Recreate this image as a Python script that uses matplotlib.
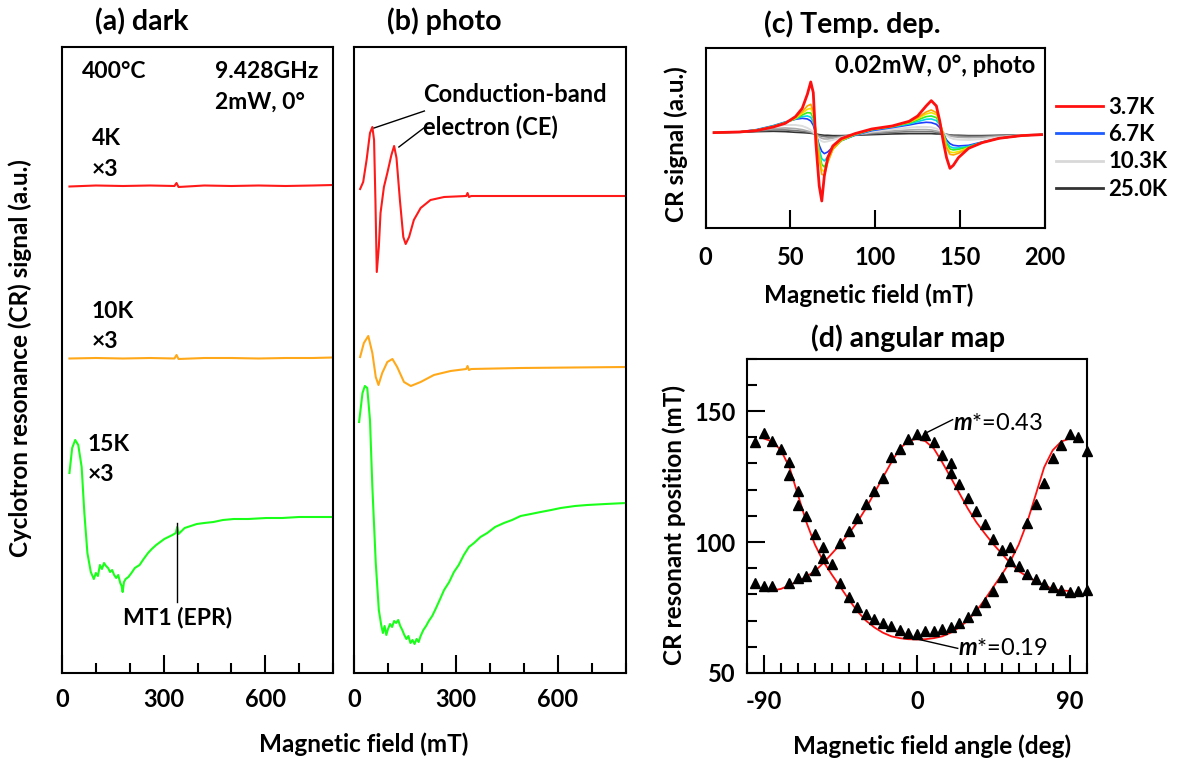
import matplotlib
matplotlib.use("Agg")
import matplotlib.pyplot as plt
from matplotlib.ticker import MultipleLocator

plt.rcParams['font.family'] = ['Lato', 'DejaVu Sans']
plt.rcParams['font.weight'] = 'bold'
plt.rcParams['axes.unicode_minus'] = False
plt.rcParams['mathtext.fontset'] = 'custom'
plt.rcParams['mathtext.it'] = 'Lato:italic'
plt.rcParams['mathtext.rm'] = 'Lato'

# ---- (a) dark spectra (field in mT, signal in a.u. incl. offsets) ----
a_flat_field = [22, 100, 180, 260, 332, 338, 344, 420, 500, 580, 660, 740, 800]
a_red_sig = [48.85, 48.95, 48.9, 48.95, 48.9, 49.2, 48.8, 48.95, 48.9, 48.95, 48.9, 48.95, 49.0]
a_orange_sig = [31.65, 31.7, 31.65, 31.7, 31.65, 32.0, 31.6, 31.7, 31.7, 31.65, 31.7, 31.7, 31.75]
a_green_field = [22, 30, 39, 48, 58, 66, 75, 85, 94, 100, 106, 112, 118, 124, 130, 136, 142, 148,
                 154, 160, 166, 172, 176, 179, 183, 188, 196, 205, 215, 229, 241, 254, 265, 278,
                 290, 302, 314, 326, 336, 340, 344, 362, 380, 398, 420, 447, 475, 507, 550, 603,
                 650, 700, 750, 800]
a_green_sig = [20.2, 22.7, 23.5, 23.0, 20.8, 16.2, 12.2, 10.3, 9.6, 10.2, 9.9, 11.0, 10.6, 11.2,
               10.9, 10.7, 10.3, 10.5, 10.0, 9.7, 10.0, 9.2, 8.9, 8.3, 9.3, 9.6, 9.8, 10.2, 10.7,
               11.0, 11.6, 12.2, 12.6, 13.0, 13.3, 13.6, 13.8, 14.0, 14.2, 14.8, 14.1, 14.7, 14.9,
               15.1, 15.2, 15.3, 15.5, 15.6, 15.6, 15.7, 15.7, 15.8, 15.8, 15.8]

# ---- (b) photo spectra ----
b_red_field = [18, 27, 37, 47, 54, 59, 63, 67, 73, 78, 88, 98, 110, 118, 125, 135, 145, 152, 162,
               176, 196, 225, 265, 330, 334, 338, 345, 490, 800]
b_red_sig = [48.6, 49.3, 51.5, 54.2, 54.8, 53.5, 47.5, 40.3, 42.8, 46.2, 48.8, 50.2, 52.0, 52.9,
             51.7, 47.5, 43.8, 43.1, 43.8, 45.5, 46.7, 47.5, 47.8, 47.9, 48.2, 47.8, 47.9, 47.9, 47.9]
b_orange_field = [18, 29, 42, 54, 64, 72, 83, 98, 113, 127, 147, 167, 196, 235, 284, 330, 334, 338,
                  345, 490, 800]
b_orange_sig = [31.8, 33.2, 33.9, 32.2, 29.8, 29.0, 30.2, 31.3, 31.6, 30.8, 29.3, 28.9, 29.3, 30.0,
                30.4, 30.6, 30.9, 30.5, 30.6, 30.7, 30.8]
b_green_field = [15, 25, 32, 39, 47, 54, 64, 73, 80, 85, 90, 95, 100, 106, 112, 118, 124, 130, 136,
                 142, 148, 154, 160, 166, 172, 178, 184, 190, 196, 204, 212, 220, 230, 240, 252,
                 265, 280, 294, 308, 323, 338, 353, 372, 392, 415, 441, 465, 490, 520, 549, 580,
                 608, 650, 686, 740, 800]
b_green_sig = [25.3, 28.2, 28.9, 28.7, 25.5, 18.8, 11.2, 6.5, 5.0, 4.2, 4.9, 4.0, 4.6, 5.1, 4.8,
               5.4, 5.2, 5.5, 4.9, 4.5, 4.0, 3.6, 3.9, 3.2, 3.5, 3.1, 3.6, 3.3, 3.9, 4.5, 4.9, 5.4,
               5.9, 6.6, 7.5, 8.5, 9.3, 10.3, 11.0, 12.0, 12.8, 13.2, 13.8, 14.2, 14.8, 15.2, 15.5,
               15.9, 16.1, 16.3, 16.5, 16.7, 16.9, 17.0, 17.1, 17.2]

# ---- (c) temperature dependence ----
c_field = [5, 20, 30, 40, 47, 53, 57, 60, 62, 63.5, 65, 67, 68.5, 70, 72, 75, 80, 88, 98, 110,
           120, 125, 130, 133, 136, 138, 140, 142, 144, 146, 149, 155, 163, 173, 186, 198]
c_3p7K = [0, 0.2, 0.6, 1.7, 2.8, 4.8, 7.3, 11.5, 15.2, 12.0, -3.0, -16.0, -20.5, -13.0, -7.5, -4.0,
          -1.8, -0.3, 1.1, 2.0, 3.4, 5.0, 8.0, 9.6, 8.0, 3.5, -2.5, -7.5, -10.7, -9.8, -7.5, -4.7,
          -3.0, -1.7, -0.9, -0.6]
c_orange = [0, 0.2, 0.7, 1.8, 2.9, 4.5, 6.3, 8.0, 8.5, 6.5, 0.5, -8.0, -12.5, -12.8, -9.0, -5.0,
            -2.2, -0.5, 1.0, 1.9, 3.2, 4.5, 6.2, 6.8, 6.0, 3.5, -0.5, -4.5, -6.5, -6.7, -6.2, -4.6,
            -3.0, -1.7, -0.9, -0.6]
c_yellow = [0, 0.2, 0.7, 1.8, 2.9, 4.3, 5.8, 7.0, 7.3, 5.5, 0.5, -7.0, -11.0, -11.8, -8.8, -5.0,
            -2.3, -0.5, 1.0, 1.9, 3.1, 4.2, 5.6, 6.0, 5.4, 3.2, -0.3, -4.0, -5.8, -6.0, -5.7, -4.5,
            -3.0, -1.7, -0.9, -0.6]
c_green = [0, 0.2, 0.7, 1.9, 3.0, 4.2, 5.3, 6.0, 5.9, 4.3, 0.3, -6.0, -9.5, -10.3, -8.3, -5.0,
           -2.4, -0.6, 0.9, 1.8, 2.9, 3.8, 4.8, 5.0, 4.5, 2.8, -0.2, -3.3, -4.9, -5.2, -5.0, -4.3,
           -2.9, -1.7, -0.9, -0.6]
c_cyan = [0, 0.2, 0.8, 2.0, 3.1, 4.1, 4.8, 5.0, 4.6, 3.2, 0.0, -5.0, -7.8, -8.5, -7.3, -4.8,
          -2.4, -0.7, 0.8, 1.7, 2.6, 3.3, 4.0, 4.1, 3.6, 2.3, -0.2, -2.8, -4.2, -4.6, -4.6, -4.1,
          -2.9, -1.7, -0.9, -0.6]
c_6p7K = [0, 0.2, 0.9, 2.1, 3.2, 4.0, 4.3, 4.1, 3.5, 2.2, -0.3, -3.8, -5.6, -6.3, -5.8, -4.3,
          -2.4, -0.8, 0.6, 1.5, 2.3, 2.8, 3.1, 3.0, 2.5, 1.5, -0.3, -2.2, -3.3, -3.8, -4.0, -3.8,
          -2.8, -1.7, -0.9, -0.6]
c_10p3K = [0, 0.2, 0.8, 1.8, 2.3, 2.3, 2.0, 1.4, 0.8, 0.2, -0.8, -2.0, -2.6, -2.8, -2.6, -2.2,
           -1.5, -0.6, 0.3, 1.0, 1.5, 1.7, 1.7, 1.6, 1.2, 0.8, 0.0, -0.9, -1.5, -1.9, -2.1, -2.2,
           -1.9, -1.4, -0.8, -0.6]
c_grayA = [0, 0.2, 0.6, 1.2, 1.4, 1.2, 0.9, 0.5, 0.2, -0.1, -0.6, -1.3, -1.7, -1.9, -1.9, -1.7,
           -1.3, -0.7, 0.0, 0.5, 0.8, 0.9, 0.9, 0.8, 0.5, 0.3, -0.1, -0.6, -1.0, -1.2, -1.4, -1.5,
           -1.4, -1.1, -0.7, -0.6]
c_grayB = [0, 0.2, 0.5, 0.8, 0.8, 0.6, 0.4, 0.2, 0.0, -0.2, -0.5, -0.9, -1.1, -1.2, -1.3, -1.3,
           -1.1, -0.7, -0.3, 0.1, 0.3, 0.3, 0.3, 0.3, 0.1, 0.0, -0.2, -0.5, -0.7, -0.9, -1.0, -1.1,
           -1.1, -0.9, -0.7, -0.6]
c_25K = [0, 0.1, 0.3, 0.4, 0.3, 0.1, 0.0, -0.1, -0.2, -0.3, -0.4, -0.6, -0.7, -0.8, -0.8, -0.9,
         -0.9, -0.8, -0.6, -0.4, -0.3, -0.3, -0.3, -0.3, -0.4, -0.4, -0.5, -0.6, -0.7, -0.8, -0.8,
         -0.9, -0.9, -0.8, -0.7, -0.6]

# ---- (d) angular map ----
d_angle_a = [-95, -90, -85, -75, -70, -65, -60, -55, -45, -40, -35, -30, -25, -20, -15, -10, -5, 0,
             5, 10, 15, 20, 20, 25, 30, 35, 40, 45, 50, 55, 60, 65, 70, 75, 80, 85, 90, 95, 100]
d_res_a = [84.2, 83.3, 83.3, 84.2, 86.4, 87.2, 89.4, 93.8, 99.6, 104.1, 109.2, 114.6, 119.5, 124.4,
           132.3, 135.5, 139.4, 141.3, 141.0, 138.1, 133.3, 130.0, 126.5, 122.3, 116.9, 111.8,
           106.7, 101.3, 97.1, 98.1, 90.7, 87.8, 85.9, 84.0, 82.7, 81.7, 80.8, 81.3, 81.7]
d_angle_b = [-95, -90, -85, -80, -75, -75, -70, -70, -65, -60, -55, -50, -45, -40, -35, -30, -25,
             -20, -15, -10, -5, 0, 5, 10, 15, 20, 25, 30, 35, 40, 45, 50, 55, 65, 70, 75, 80, 85,
             90, 95, 100]
d_res_b = [138.1, 141.7, 138.7, 135.5, 130.4, 125.5, 119.5, 114.1, 109.9, 103.1, 98.1, 91.5, 84.2,
           79.1, 75.3, 72.4, 70.8, 69.2, 67.8, 66.3, 65.4, 65.0, 65.9, 65.9, 66.7, 67.6, 69.2,
           71.4, 74.0, 77.2, 81.3, 86.8, 92.6, 107.3, 114.6, 122.7, 132.1, 137.2, 141.3, 140.0,
           134.9]
d_fit_angle = list(range(-90, 91, 5))
d_fit_043 = [81.3, 81.5, 82.1, 83.5, 85.0, 86.8, 88.9, 92.0, 95.6, 99.2, 103.3, 107.6, 112.8, 118.7,
             124.6, 130.4, 135.7, 138.5, 139.4, 138.5, 135.7, 130.4, 124.6, 118.7, 112.8, 107.6,
             103.3, 99.2, 95.6, 92.0, 88.9, 86.8, 85.0, 83.5, 82.1, 81.5, 81.3]
d_fit_019 = [139.5, 138.3, 135.0, 128.5, 118.0, 107.5, 99.0, 92.5, 87.5, 82.8, 78.0, 73.6, 70.0,
             67.4, 65.4, 64.0, 63.3, 62.9, 62.8, 62.9, 63.3, 64.0, 65.4, 67.4, 70.0, 73.6, 78.0,
             82.8, 87.5, 92.5, 99.0, 107.5, 118.0, 128.5, 135.0, 138.3, 139.5]

W, H = 1177, 759
fig = plt.figure(figsize=(W / 100, H / 100), dpi=100)


def px_axes(left, top, right, bottom):
    return fig.add_axes([left / W, 1 - bottom / H, (right - left) / W, (bottom - top) / H])


def style_frame(ax):
    for s in ax.spines.values():
        s.set_linewidth(1.5)
    ax.tick_params(which='both', direction='in', width=1.5, labelsize=17,
                   top=False, right=False)
    ax.tick_params(which='major', length=13)
    ax.tick_params(which='minor', length=7)


ax_a = px_axes(62, 47, 333, 673)
ax_b = px_axes(354, 47, 626, 673)
ax_c = px_axes(705.5, 47.6, 1045, 228)
ax_d = px_axes(747, 358.6, 1086.6, 673)

ANN = 16.5

# (a)
ax_a.plot(a_flat_field, a_red_sig, color='#ff1a1a', lw=1.5)
ax_a.plot(a_flat_field, a_orange_sig, color='#ffa91a', lw=1.5)
ax_a.plot(a_green_field, a_green_sig, color='#1aff1a', lw=1.5)
ax_a.plot([340, 340], [7.3, 15.2], color='black', lw=1)
ax_a.text(340, 5.7, 'MT1 (EPR)', ha='center', va='center', fontsize=ANN)
for x, y, s in [(59, 60.3, '400°C'), (451, 60.3, '9.428GHz'), (451, 57.3, '2mW, 0°'),
                (88, 53.6, '4K'), (88, 50.5, '×3'), (88, 36.3, '10K'), (88, 33.3, '×3'),
                (76, 23.0, '15K'), (76, 20.0, '×3')]:
    ax_a.text(x, y, s, ha='left', va='center', fontsize=ANN)

# (b)
ax_b.plot(b_red_field, b_red_sig, color='#ff1a1a', lw=1.5)
ax_b.plot(b_orange_field, b_orange_sig, color='#ffa91a', lw=1.5)
ax_b.plot(b_green_field, b_green_sig, color='#1aff1a', lw=1.5)
ax_b.plot([59, 207], [54.7, 56.4], color='black', lw=1)
ax_b.plot([132, 213], [52.8, 54.9], color='black', lw=1)
ax_b.text(204, 58.0, 'Conduction-band', ha='left', va='center', fontsize=17)
ax_b.text(204, 54.8, 'electron (CE)', ha='left', va='center', fontsize=17)

for ax in (ax_a, ax_b):
    ax.set_xlim(0, 800)
    ax.set_ylim(0.2, 62.8)
    ax.set_xticks([0, 300, 600])
    ax.xaxis.set_minor_locator(MultipleLocator(100))
    ax.set_yticks([])
    style_frame(ax)
    ax.tick_params(axis='x', which='both', pad=11)

# (c)
for vals, col, lw in [(c_25K, '#333333', 1.2), (c_grayB, '#777777', 1.2), (c_grayA, '#aaaaaa', 1.2),
                      (c_10p3K, '#dddddd', 1.4), (c_6p7K, '#1f3cff', 1.2), (c_cyan, '#00d8e8', 1.2),
                      (c_green, '#33ee22', 1.2), (c_yellow, '#f2e200', 1.2),
                      (c_orange, '#ffa500', 1.2), (c_3p7K, '#ff1010', 2.0)]:
    ax_c.plot(c_field, vals, color=col, lw=lw)
ax_c.set_xlim(0, 200)
ax_c.set_ylim(-28.6, 25.5)
ax_c.set_xticks([0, 50, 100, 150, 200])
ax_c.set_yticks([])
style_frame(ax_c)
ax_c.tick_params(axis='x', pad=13)
ax_c.text(194.4, 20.2, '0.02mW, 0°, photo', ha='right', va='center', fontsize=17)

leg_handles = [plt.Line2D([], [], color='#ff1010', lw=2.0),
               plt.Line2D([], [], color='#1f5cff', lw=2.0),
               plt.Line2D([], [], color='#d8d8d8', lw=2.0),
               plt.Line2D([], [], color='#333333', lw=2.0)]
fig.legend(leg_handles, ['3.7K', '6.7K', '10.3K', '25.0K'], loc='center left',
           bbox_to_anchor=(1056 / W, 1 - 148.3 / H), frameon=False, borderpad=0,
           borderaxespad=0, handlelength=2.1, handletextpad=0.25, labelspacing=0.28,
           fontsize=16)

# (d)
ax_d.plot(d_fit_angle, d_fit_043, color='#ff1010', lw=1.3, zorder=2)
ax_d.plot(d_fit_angle, d_fit_019, color='#ff1010', lw=1.3, zorder=2)
ax_d.plot(d_angle_a, d_res_a, '^', color='black', ms=7, clip_on=False, zorder=3)
ax_d.plot(d_angle_b, d_res_b, '^', color='black', ms=7, clip_on=False, zorder=3)
ax_d.set_xlim(-100, 100)
ax_d.set_ylim(50, 170)
ax_d.set_xticks([-90, 0, 90])
ax_d.xaxis.set_minor_locator(MultipleLocator(10))
ax_d.set_yticks([50, 100, 150])
ax_d.yaxis.set_minor_locator(MultipleLocator(10))
style_frame(ax_d)
ax_d.tick_params(axis='x', which='both', pad=12)
ax_d.tick_params(axis='y', which='both', pad=8)
ax_d.plot([4.4, 21.1], [141.3, 146.7], color='black', lw=1)
ax_d.text(21.1, 145.2, '$m$*=0.43', ha='left', va='center', fontsize=17, fontweight='normal')
ax_d.plot([0, 24.1], [63.0, 59.4], color='black', lw=1)
ax_d.text(24.1, 59.2, '$m$*=0.19', ha='left', va='center', fontsize=17, fontweight='normal')

# titles and axis labels
TT, LB = 20.5, 17.5
fig.text(142 / W, 1 - 21.7 / H, '(a) dark', ha='center', va='center', fontsize=TT)
fig.text(444.5 / W, 1 - 21.7 / H, '(b) photo', ha='center', va='center', fontsize=TT)
fig.text(852.6 / W, 1 - 24 / H, '(c) Temp. dep.', ha='center', va='center', fontsize=TT)
fig.text(908.4 / W, 1 - 338.5 / H, '(d) angular map', ha='center', va='center', fontsize=TT)
fig.text(20 / W, 1 - 358 / H, 'Cyclotron resonance (CR) signal (a.u.)', rotation=90,
         ha='center', va='center', fontsize=LB)
fig.text(364 / W, 1 - 744 / H, 'Magnetic field (mT)', ha='center', va='center', fontsize=LB)
fig.text(676 / W, 1 - 144 / H, 'CR signal (a.u.)', rotation=90, ha='center', va='center',
         fontsize=LB)
fig.text(868.8 / W, 1 - 294.8 / H, 'Magnetic field (mT)', ha='center', va='center', fontsize=LB)
fig.text(674.5 / W, 1 - 524.8 / H, 'CR resonant position (mT)', rotation=90, ha='center',
         va='center', fontsize=LB)
fig.text(932 / W, 1 - 746 / H, 'Magnetic field angle (deg)', ha='center', va='center',
         fontsize=LB)

fig.savefig('out.png', dpi=100)
